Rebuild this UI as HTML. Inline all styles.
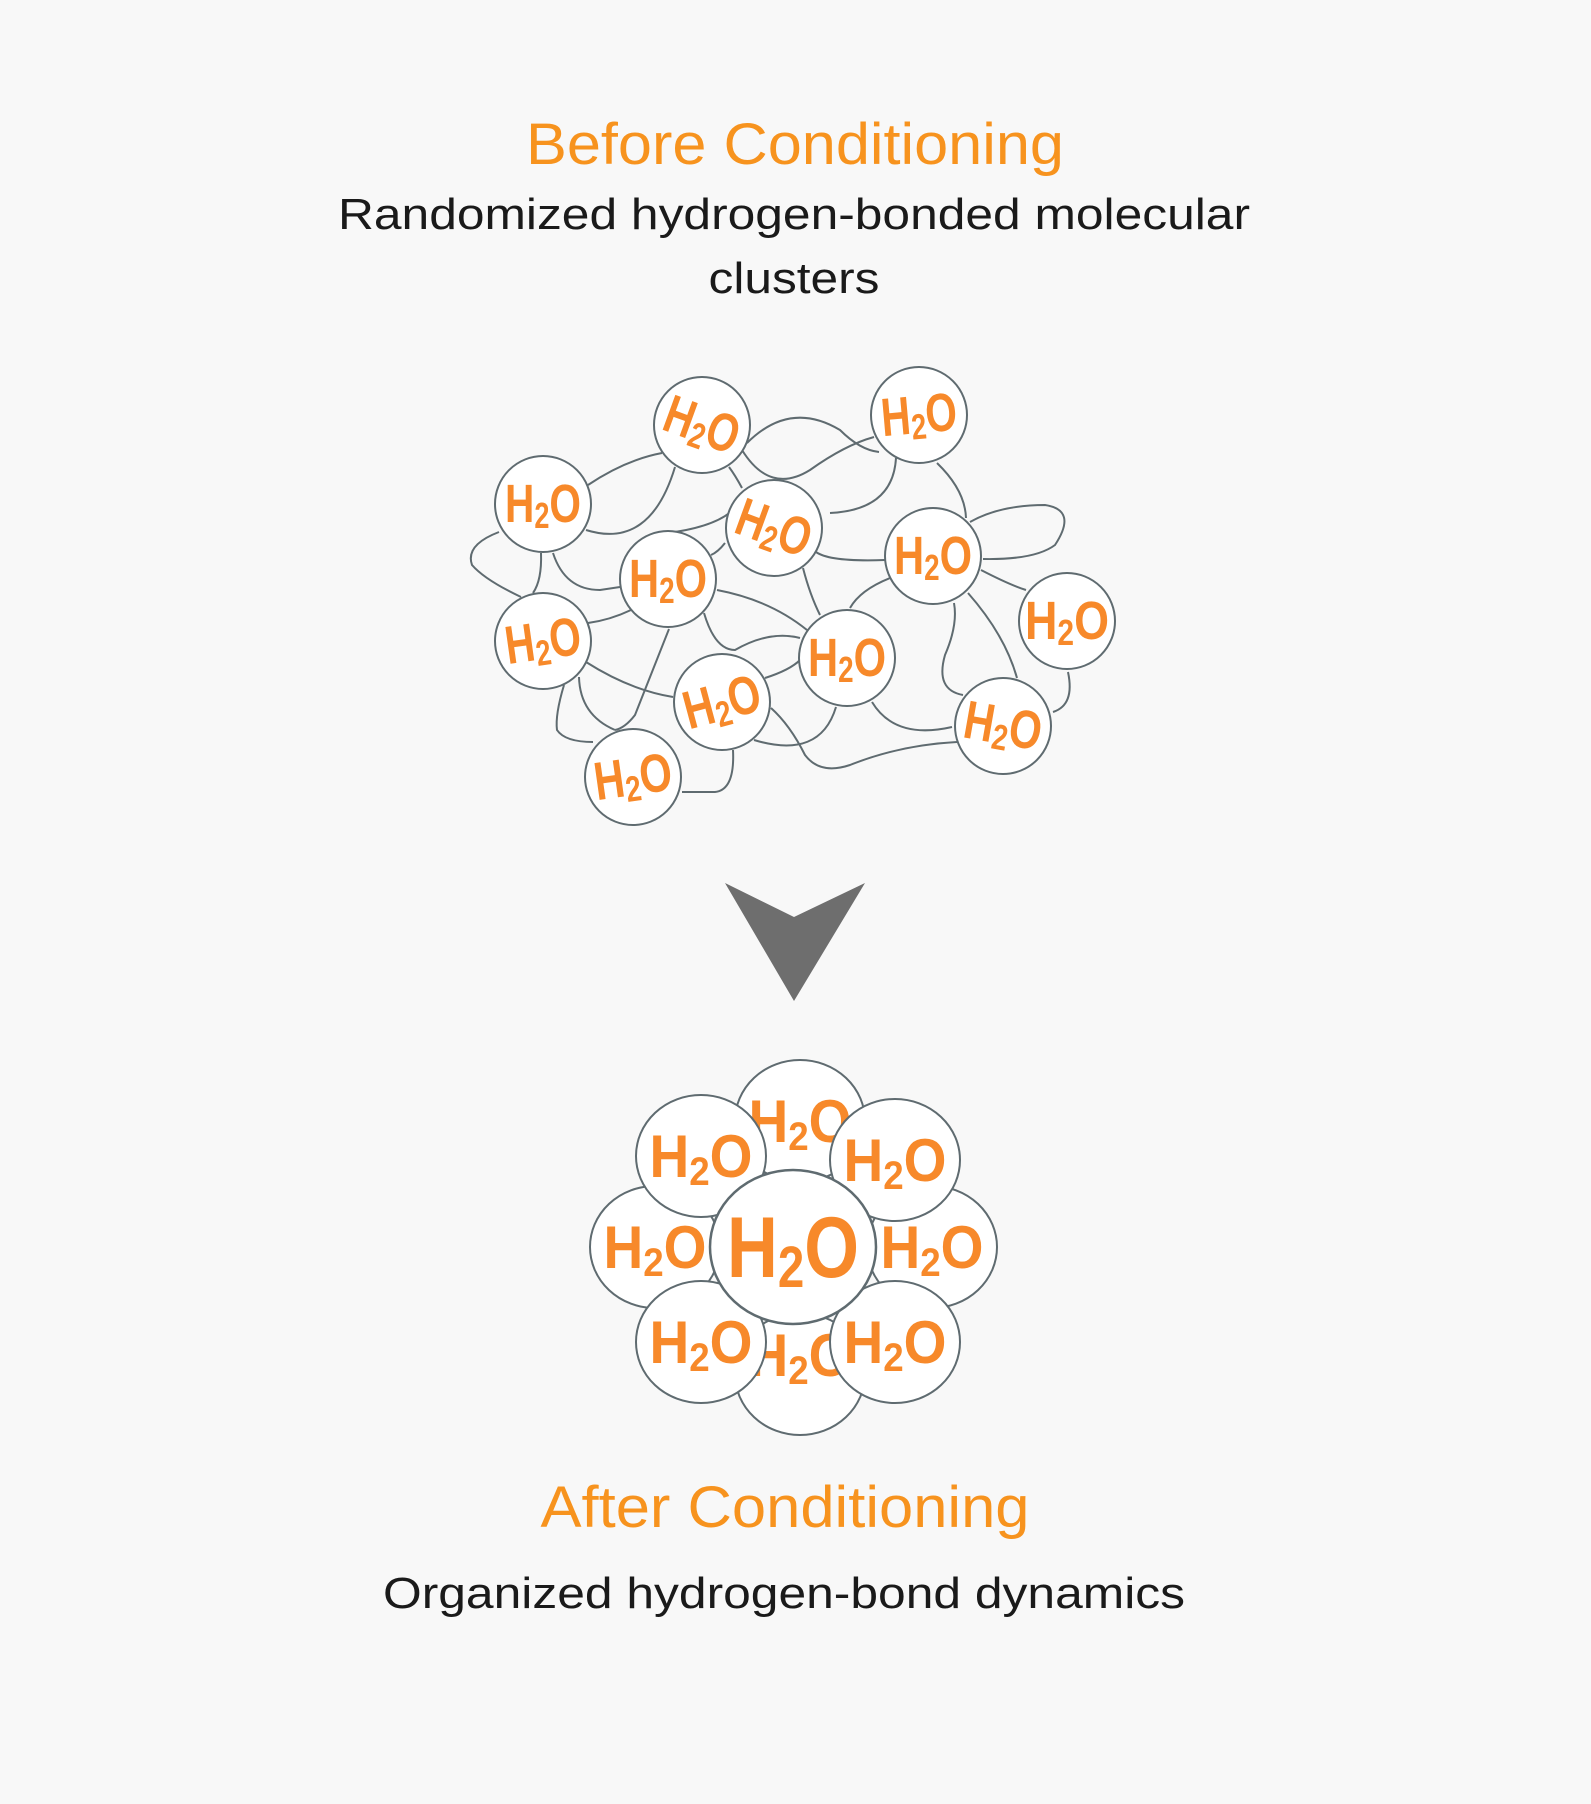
<!DOCTYPE html>
<html><head><meta charset="utf-8"><style>
html,body{margin:0;padding:0;background:#f8f8f8;}
svg{display:block;}
</style></head><body>
<svg width="1591" height="1804" viewBox="0 0 1591 1804" xmlns="http://www.w3.org/2000/svg">
<rect width="1591" height="1804" fill="#f8f8f8"/>
<g font-family="Liberation Sans, Arial, sans-serif" text-anchor="middle">
<text x="795" y="164" font-size="58" fill="#f7931e" textLength="538" lengthAdjust="spacingAndGlyphs">Before Conditioning</text>
<text x="794" y="229" font-size="44" fill="#1a1a1a" textLength="912" lengthAdjust="spacingAndGlyphs">Randomized hydrogen-bonded molecular</text>
<text x="794" y="293" font-size="44" fill="#1a1a1a" textLength="171" lengthAdjust="spacingAndGlyphs">clusters</text>
<text x="785" y="1527" font-size="58" fill="#f7931e" textLength="489" lengthAdjust="spacingAndGlyphs">After Conditioning</text>
<text x="784" y="1608" font-size="44" fill="#1a1a1a" textLength="802" lengthAdjust="spacingAndGlyphs">Organized hydrogen-bond dynamics</text>
</g>

<g fill="none" stroke="#5f6b70" stroke-width="2">
<path d="M588,485 Q625,460 662,453"/>
<path d="M586,530 Q650,550 675,467"/>
<path d="M742,450 Q770,495 810,470 Q845,445 874,437"/>
<path d="M747,443 Q790,400 840,430 Q860,450 879,452"/>
<path d="M896,458 Q893,510 830,513"/>
<path d="M937,463 Q965,490 966,518"/>
<path d="M970,522 Q1000,505 1045,505 Q1078,510 1055,545 Q1035,560 983,559"/>
<path d="M816,552 Q830,562 885,560"/>
<path d="M981,570 Q1010,585 1026,590"/>
<path d="M968,593 Q1005,635 1017,678"/>
<path d="M954,603 Q958,625 945,655 Q935,690 963,695"/>
<path d="M1068,672 Q1075,705 1053,712"/>
<path d="M890,578 Q860,590 850,608"/>
<path d="M803,568 Q810,595 820,615"/>
<path d="M742,488 Q735,475 729,467"/>
<path d="M736,507 Q720,525 675,532"/>
<path d="M725,543 Q718,552 711,555"/>
<path d="M499,532 Q465,545 472,565 Q485,580 521,597"/>
<path d="M541,553 Q542,580 533,593"/>
<path d="M553,553 Q565,590 600,590 L620,587"/>
<path d="M588,623 Q610,620 631,610"/>
<path d="M669,629 Q645,690 635,715 Q625,728 615,730"/>
<path d="M717,590 Q770,600 807,630"/>
<path d="M704,613 Q715,650 735,650 Q770,630 800,638"/>
<path d="M586,662 Q630,690 673,697"/>
<path d="M579,677 Q580,715 615,730"/>
<path d="M564,685 Q555,715 557,730 Q565,742 593,742"/>
<path d="M765,678 Q790,670 800,660"/>
<path d="M771,708 Q790,725 805,755 Q820,775 850,765 Q900,745 957,742"/>
<path d="M754,740 Q820,760 836,707"/>
<path d="M733,750 Q735,790 715,792 L682,792"/>
<path d="M872,702 Q895,740 952,727"/>
</g>

<g stroke="#5f6b70" stroke-width="2" fill="#fff">
<circle cx="702" cy="425" r="48"/>
<circle cx="919" cy="415" r="48"/>
<circle cx="543" cy="504" r="48"/>
<circle cx="774" cy="528" r="48"/>
<circle cx="933" cy="556" r="48"/>
<circle cx="668" cy="579" r="48"/>
<circle cx="543" cy="641" r="48"/>
<circle cx="847" cy="658" r="48"/>
<circle cx="1067" cy="621" r="48"/>
<circle cx="722" cy="702" r="48"/>
<circle cx="1003" cy="726" r="48"/>
<circle cx="633" cy="777" r="48"/>
</g>
<g font-family="Liberation Sans, Arial, sans-serif" font-weight="bold" fill="#f7892a" font-size="54" text-anchor="middle">
<text transform="translate(702,425) rotate(20)" y="18" textLength="76" lengthAdjust="spacingAndGlyphs">H<tspan font-size="36" dy="6">2</tspan><tspan dy="-6">O</tspan></text>
<text transform="translate(919,415) rotate(-5)" y="18" textLength="76" lengthAdjust="spacingAndGlyphs">H<tspan font-size="36" dy="6">2</tspan><tspan dy="-6">O</tspan></text>
<text transform="translate(543,504)" y="18" textLength="76" lengthAdjust="spacingAndGlyphs">H<tspan font-size="36" dy="6">2</tspan><tspan dy="-6">O</tspan></text>
<text transform="translate(774,528) rotate(20)" y="18" textLength="76" lengthAdjust="spacingAndGlyphs">H<tspan font-size="36" dy="6">2</tspan><tspan dy="-6">O</tspan></text>
<text transform="translate(933,556)" y="18" textLength="78" lengthAdjust="spacingAndGlyphs">H<tspan font-size="36" dy="6">2</tspan><tspan dy="-6">O</tspan></text>
<text transform="translate(668,579)" y="18" textLength="78" lengthAdjust="spacingAndGlyphs">H<tspan font-size="36" dy="6">2</tspan><tspan dy="-6">O</tspan></text>
<text transform="translate(543,641) rotate(-8)" y="18" textLength="76" lengthAdjust="spacingAndGlyphs">H<tspan font-size="36" dy="6">2</tspan><tspan dy="-6">O</tspan></text>
<text transform="translate(847,658)" y="18" textLength="78" lengthAdjust="spacingAndGlyphs">H<tspan font-size="36" dy="6">2</tspan><tspan dy="-6">O</tspan></text>
<text transform="translate(1067,621)" y="18" textLength="84" lengthAdjust="spacingAndGlyphs">H<tspan font-size="36" dy="6">2</tspan><tspan dy="-6">O</tspan></text>
<text transform="translate(722,702) rotate(-15)" y="18" textLength="78" lengthAdjust="spacingAndGlyphs">H<tspan font-size="36" dy="6">2</tspan><tspan dy="-6">O</tspan></text>
<text transform="translate(1003,726) rotate(10)" y="18" textLength="78" lengthAdjust="spacingAndGlyphs">H<tspan font-size="36" dy="6">2</tspan><tspan dy="-6">O</tspan></text>
<text transform="translate(633,777) rotate(-8)" y="18" textLength="78" lengthAdjust="spacingAndGlyphs">H<tspan font-size="36" dy="6">2</tspan><tspan dy="-6">O</tspan></text>
</g>

<polygon points="725,883 794,917 865,883 794,1001" fill="#6e6e6e"/>

<g font-family="Liberation Sans, Arial, sans-serif" font-weight="bold" fill="#f7892a" text-anchor="middle">
<g stroke="#5f6b70" stroke-width="2" fill="#fff">
<ellipse cx="800" cy="1121" rx="65" ry="61"/>
<ellipse cx="800" cy="1374" rx="65" ry="61"/>
</g>
<text x="800" y="1142" font-size="60" textLength="103" lengthAdjust="spacingAndGlyphs">H<tspan font-size="40" dy="8">2</tspan><tspan dy="-8">O</tspan></text>
<text x="800" y="1376" font-size="60" textLength="103" lengthAdjust="spacingAndGlyphs">H<tspan font-size="40" dy="8">2</tspan><tspan dy="-8">O</tspan></text>
<g stroke="#5f6b70" stroke-width="2" fill="#fff">
<ellipse cx="655" cy="1247" rx="65" ry="61"/>
<ellipse cx="932" cy="1247" rx="65" ry="61"/>
</g>
<text x="655" y="1268" font-size="60" textLength="103" lengthAdjust="spacingAndGlyphs">H<tspan font-size="40" dy="8">2</tspan><tspan dy="-8">O</tspan></text>
<text x="932" y="1268" font-size="60" textLength="103" lengthAdjust="spacingAndGlyphs">H<tspan font-size="40" dy="8">2</tspan><tspan dy="-8">O</tspan></text>
<g stroke="#5f6b70" stroke-width="2" fill="#fff">
<ellipse cx="701" cy="1156" rx="65" ry="61"/>
<ellipse cx="895" cy="1160" rx="65" ry="61"/>
<ellipse cx="701" cy="1342" rx="65" ry="61"/>
<ellipse cx="895" cy="1342" rx="65" ry="61"/>
</g>
<text x="701" y="1177" font-size="60" textLength="103" lengthAdjust="spacingAndGlyphs">H<tspan font-size="40" dy="8">2</tspan><tspan dy="-8">O</tspan></text>
<text x="895" y="1181" font-size="60" textLength="103" lengthAdjust="spacingAndGlyphs">H<tspan font-size="40" dy="8">2</tspan><tspan dy="-8">O</tspan></text>
<text x="701" y="1363" font-size="60" textLength="103" lengthAdjust="spacingAndGlyphs">H<tspan font-size="40" dy="8">2</tspan><tspan dy="-8">O</tspan></text>
<text x="895" y="1363" font-size="60" textLength="103" lengthAdjust="spacingAndGlyphs">H<tspan font-size="40" dy="8">2</tspan><tspan dy="-8">O</tspan></text>
<ellipse cx="793" cy="1247" rx="83" ry="77" stroke="#5f6b70" stroke-width="2.5" fill="#fff"/>
<text x="793" y="1277" font-size="86" textLength="132" lengthAdjust="spacingAndGlyphs">H<tspan font-size="58" dy="10">2</tspan><tspan dy="-10">O</tspan></text>
</g>
</svg>
</body></html>
